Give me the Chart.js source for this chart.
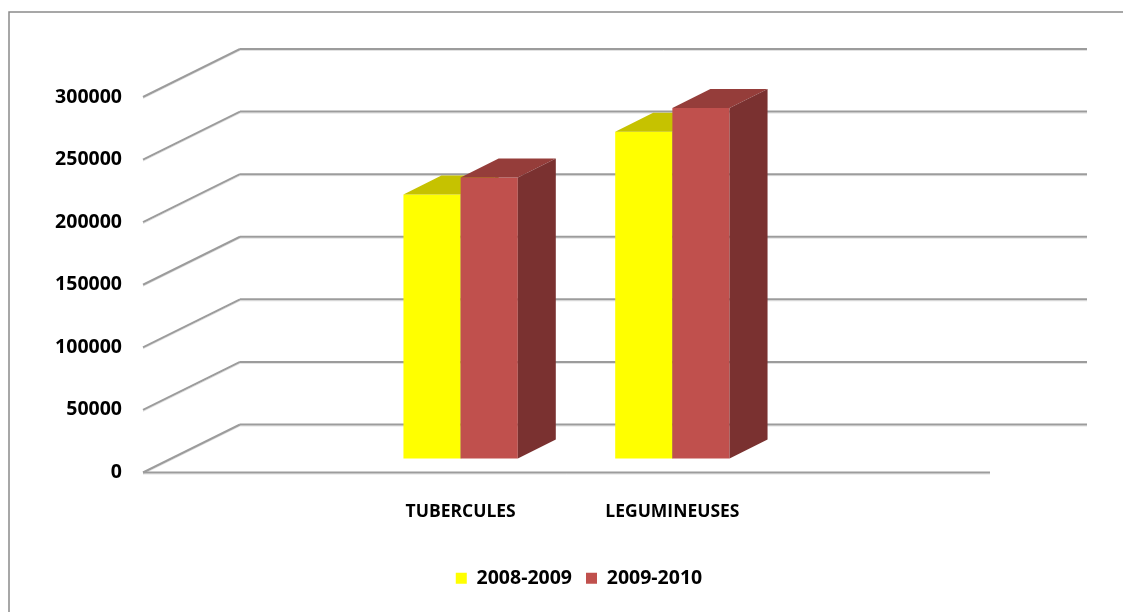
<!DOCTYPE html>
<html>
<head>
<meta charset="utf-8">
<title>Production</title>
<script src="https://cdn.jsdelivr.net/npm/chart.js@4.4.0/dist/chart.umd.min.js"></script>
<style>
    html, body { margin: 0; padding: 0; background: #fff; }
    #wrap { width: 1123px; height: 612px; position: relative; }
</style>
</head>
<body>
<div id="wrap"><canvas id="prodChart"></canvas></div>
<script>
// data
const categories = ['', 'TUBERCULES', 'LEGUMINEUSES', ''];
const seriesNames = ['2008-2009', '2009-2010'];
const values0809 = [null, 211000, 261000, null];
const values0910 = [null, 224500, 280000, null];
const yTickValues = [0, 50000, 100000, 150000, 200000, 250000, 300000];

// colours: front, top, side
const yellow = ['#ffff00', '#c6c200', '#a09c00'];
const red = ['#c0504d', '#953d3a', '#7a3130'];

// fake 3d geometry
const WALL_DX = 97, WALL_DY = -48;   // depth of floor / back wall
const BAR_DX = 38, BAR_DY = -19;     // depth of a bar
const BAR_LIFT = -14;                // bars stand a bit behind the front edge
const LEGEND_SHIFT = 84;             // legend is not centred on the canvas

const fontFamily = "'Open Sans', 'DejaVu Sans', sans-serif";

function poly(ctx, pts, color) {
    ctx.beginPath();
    ctx.moveTo(pts[0][0], pts[0][1]);
    for (let i = 1; i < pts.length; i++) ctx.lineTo(pts[i][0], pts[i][1]);
    ctx.closePath();
    ctx.fillStyle = color;
    ctx.fill();
}

function gridLine(ctx, x1, y1, x2, y2) {
    ctx.beginPath();
    ctx.moveTo(x1, y1 + 1.5);
    ctx.lineTo(x2, y2 + 1.5);
    ctx.strokeStyle = '#e2e2e2';
    ctx.lineWidth = 1;
    ctx.stroke();
    ctx.beginPath();
    ctx.moveTo(x1, y1);
    ctx.lineTo(x2, y2);
    ctx.strokeStyle = '#9c9c9c';
    ctx.lineWidth = 2;
    ctx.stroke();
}

const fake3d = {
    id: 'fake3d',
    afterLayout(chart) {
        chart.legend.left += LEGEND_SHIFT;
        chart.legend.right += LEGEND_SHIFT;
    },
    beforeDraw(chart) {
        const ctx = chart.ctx;
        // outer frame (only top and left edges are visible)
        ctx.save();
        ctx.strokeStyle = '#8a8a8a';
        ctx.lineWidth = 1.5;
        ctx.beginPath();
        ctx.moveTo(9, 612);
        ctx.lineTo(9, 12);
        ctx.lineTo(1123, 12);
        ctx.stroke();
        ctx.restore();
    },
    beforeDatasetsDraw(chart) {
        const ctx = chart.ctx;
        const area = chart.chartArea;
        const y = chart.scales.y;
        ctx.save();
        yTickValues.forEach(v => {
            const py = y.getPixelForValue(v);
            gridLine(ctx, area.left, py, area.left + WALL_DX, py + WALL_DY);
            gridLine(ctx, area.left + WALL_DX, py + WALL_DY, area.right + WALL_DX, py + WALL_DY);
        });
        // front edge of the floor
        const p0 = y.getPixelForValue(0);
        gridLine(ctx, area.left, p0, area.right, p0);
        ctx.restore();
    },
    // the flat bars are skipped here and drawn with their faces afterwards
    beforeDatasetDraw() {
        return false;
    },
    afterDatasetsDraw(chart) {
        const ctx = chart.ctx;
        ctx.save();
        ctx.translate(0, BAR_LIFT);
        // first series first, so the red fronts cover the yellow sides
        chart.data.datasets.forEach((ds, di) => {
            const cols = di === 0 ? yellow : red;
            chart.getDatasetMeta(di).data.forEach((bar, i) => {
                if (ds.data[i] == null) return;
                bar.draw(ctx);
                const p = bar.getProps(['x', 'y', 'base', 'width'], true);
                const l = p.x - p.width / 2, r = p.x + p.width / 2;
                poly(ctx, [[l, p.y], [l + BAR_DX, p.y + BAR_DY], [r + BAR_DX, p.y + BAR_DY], [r, p.y]], cols[1]);
                poly(ctx, [[r, p.y], [r + BAR_DX, p.y + BAR_DY], [r + BAR_DX, p.base + BAR_DY], [r, p.base]], cols[2]);
            });
        });
        ctx.restore();
    }
};

new Chart(document.getElementById('prodChart'), {
    type: 'bar',
    data: {
        labels: categories,
        datasets: [
            {label: seriesNames[0], data: values0809, backgroundColor: yellow[0], borderWidth: 0},
            {label: seriesNames[1], data: values0910, backgroundColor: red[0], borderWidth: 0}
        ]
    },
    options: {
        responsive: true,
        maintainAspectRatio: false,
        animation: false,
        layout: {padding: {top: 97, right: 133, left: 0, bottom: 14}},
        datasets: {bar: {categoryPercentage: 0.54, barPercentage: 1}},
        scales: {
            x: {
                grid: {display: false, drawTicks: false},
                border: {display: false},
                ticks: {color: '#000', font: {family: fontFamily, weight: 'bold', size: 17.5}, padding: 29, maxRotation: 0, autoSkip: false},
                afterFit: s => { s.height = 82; }
            },
            y: {
                min: 0,
                max: 300000,
                grid: {display: false, drawTicks: false},
                border: {display: false},
                afterBuildTicks: s => { s.ticks = yTickValues.map(v => ({value: v})); },
                afterFit: s => { s.width = 143; },
                ticks: {color: '#000', font: {family: fontFamily, weight: 'bold', size: 19.5}, padding: 21, callback: v => String(v)}
            }
        },
        plugins: {
            legend: {
                position: 'bottom',
                labels: {color: '#000', font: {family: fontFamily, weight: 'bold', size: 19.5}, boxWidth: 11, boxHeight: 11, padding: 14}
            },
            tooltip: {enabled: false}
        }
    },
    plugins: [fake3d]
});
</script>
</body>
</html>
